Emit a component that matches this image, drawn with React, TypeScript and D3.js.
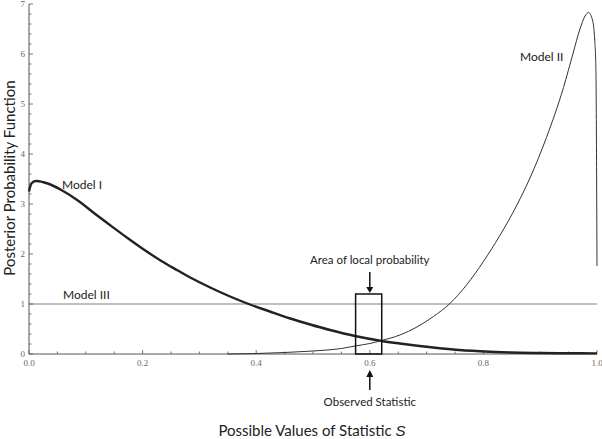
import React from "react";
import * as d3 from "d3";

const modelIS = [0, 0.005, 0.012, 0.033, 0.057, 0.086, 0.116, 0.145, 0.174, 0.204, 0.233, 0.262, 0.283, 0.319, 0.354, 0.389, 0.424, 0.46, 0.495, 0.53, 0.574, 0.621, 0.653, 0.7, 0.747, 0.794, 0.847, 0.9, 0.95, 1.0];
const modelIV = [3.25, 3.42, 3.46, 3.41, 3.28, 3.07, 2.806, 2.557, 2.315, 2.075, 1.86, 1.67, 1.535, 1.33, 1.15, 0.99, 0.85, 0.71, 0.59, 0.48, 0.36, 0.26, 0.21, 0.145, 0.09, 0.055, 0.03, 0.02, 0.015, 0.012];

const modelIIS = [0.35, 0.4, 0.45, 0.5, 0.525, 0.55, 0.574, 0.6, 0.621, 0.653, 0.683, 0.712, 0.741, 0.771, 0.8, 0.829, 0.859, 0.882, 0.911, 0.941, 0.958, 0.97, 0.979, 0.985, 0.992, 0.996, 0.998, 1.0];
const modelIIV = [0, 0.01, 0.03, 0.06, 0.08, 0.11, 0.16, 0.21, 0.27, 0.38, 0.54, 0.75, 1.01, 1.39, 1.85, 2.37, 2.98, 3.52, 4.33, 5.33, 6.02, 6.5, 6.76, 6.83, 6.68, 6.28, 5.75, 1.76];

const modelIIIS = [0, 1];
const modelIIIV = [1, 1];

const xTickLabels = [0, 0.2, 0.4, 0.6, 0.8, 1.0];
const yTickLabels = [0, 1, 2, 3, 4, 5, 6, 7];

const boxRange = [0.575, 0.621];
const boxHeight = 1.2;
const observed = 0.6;

export default function App() {
  const W = 602, H = 439;
  const x = d3.scaleLinear().domain([0, 1]).range([29, 597]);
  const y = d3.scaleLinear().domain([0, 7]).range([354, 4]);

  const line = d3
    .line<[number, number]>()
    .x((d) => x(d[0]))
    .y((d) => y(d[1]))
    .curve(d3.curveCatmullRom.alpha(0.5));

  const line2 = d3
    .line<[number, number]>()
    .x((d) => x(d[0]))
    .y((d) => y(d[1]))
    .curve(d3.curveMonotoneX);

  const m1 = line(modelIS.map((s, i) => [s, modelIV[i]]));
  const m2 = line2(modelIIS.map((s, i) => [s, modelIIV[i]]));
  const m3 = line2(modelIIIS.map((s, i) => [s, modelIIIV[i]]));

  const xMinor = d3.range(0, 1.0001, 0.05);
  const yMinor = d3.range(0, 7.0001, 0.2);
  const axisColor = "#555";
  const serif = "'Liberation Serif', 'DejaVu Serif', serif";
  const sans = "Lato, 'Open Sans', sans-serif";

  return (
    <svg width={W} height={H} style={{ position: "absolute", left: 0, top: 0, background: "#fff" }}>
      <path d={m3 || ""} fill="none" stroke="#aaa" strokeWidth={1.3} />
      <line x1={x(0)} x2={x(1)} y1={y(0)} y2={y(0)} stroke={axisColor} strokeWidth={1} />
      <line x1={x(0)} x2={x(0)} y1={y(0)} y2={y(7)} stroke={axisColor} strokeWidth={1} />
      {xMinor.map((t, i) => {
        const major = Math.abs(t * 10 - Math.round(t * 10)) < 1e-6 && Math.round(t * 10) % 2 === 0;
        return (
          <line key={"xt" + i} x1={x(t)} x2={x(t)} y1={y(0)} y2={y(0) - (major ? 4 : 2.5)} stroke={axisColor} strokeWidth={0.8} />
        );
      })}
      {yMinor.map((t, i) => {
        const major = Math.abs(t - Math.round(t)) < 1e-6;
        return (
          <line key={"yt" + i} x1={x(0)} x2={x(0) + (major ? 4 : 2.5)} y1={y(t)} y2={y(t)} stroke={axisColor} strokeWidth={0.8} />
        );
      })}
      {xTickLabels.map((t) => (
        <text key={"xl" + t} x={x(t)} y={y(0) + 12} textAnchor="middle" fontFamily={serif} fontSize={9} fill="#666">
          {t.toFixed(1)}
        </text>
      ))}
      {yTickLabels.map((t) => (
        <text key={"yl" + t} x={x(0) - 4} y={y(t) + 3} textAnchor="end" fontFamily={serif} fontSize={9} fill="#666">
          {t}
        </text>
      ))}
      <path d={m1 || ""} fill="none" stroke="#222" strokeWidth={2.4} strokeLinejoin="round" />
      <path d={m2 || ""} fill="none" stroke="#333" strokeWidth={1} />
      <rect x={x(boxRange[0])} y={y(boxHeight)} width={x(boxRange[1]) - x(boxRange[0])} height={y(0) - y(boxHeight)} fill="none" stroke="#111" strokeWidth={1.5} />
      <line x1={x(observed)} x2={x(observed)} y1={272} y2={y(boxHeight) - 6} stroke="#111" strokeWidth={1.5} />
      <path d={`M${x(observed) - 3.5},${y(boxHeight) - 7} L${x(observed) + 3.5},${y(boxHeight) - 7} L${x(observed)},${y(boxHeight) - 1} Z`} fill="#111" />
      <line x1={x(observed)} x2={x(observed)} y1={390} y2={y(0) + 22} stroke="#111" strokeWidth={1.5} />
      <path d={`M${x(observed) - 3.5},${y(0) + 23} L${x(observed) + 3.5},${y(0) + 23} L${x(observed)},${y(0) + 16} Z`} fill="#111" />
      <text x={62} y={189} fontFamily={sans} fontSize={12} fill="#222">Model I</text>
      <text x={520} y={61} fontFamily={sans} fontSize={12} fill="#222">Model II</text>
      <text x={63} y={299} fontFamily={sans} fontSize={12} fill="#222">Model III</text>
      <text x={x(observed)} y={264} textAnchor="middle" fontFamily={sans} fontSize={11.5} fill="#222">Area of local probability</text>
      <text x={x(observed)} y={406} textAnchor="middle" fontFamily={sans} fontSize={11.5} fill="#222">Observed Statistic</text>
      <text x={312} y={436} textAnchor="middle" fontFamily={sans} fontSize={15} fill="#222">
        Possible Values of Statistic <tspan fontFamily="'Liberation Sans', 'DejaVu Sans', sans-serif" fontStyle="italic">S</tspan>
      </text>
      <text transform={`translate(15,178) rotate(-90)`} textAnchor="middle" fontFamily={sans} fontSize={15} fill="#222">
        Posterior Probability Function
      </text>
    </svg>
  );
}
